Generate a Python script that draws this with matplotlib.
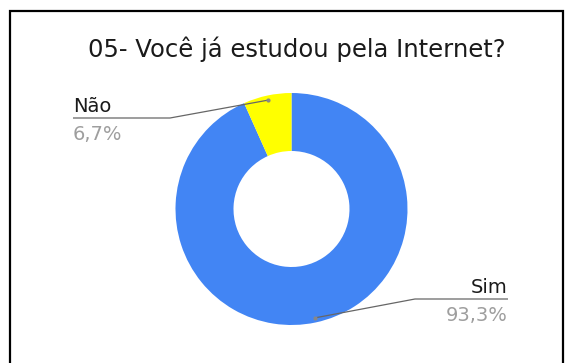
import numpy as np
import matplotlib.pyplot as plt
from matplotlib.patches import Rectangle

# data
categories = ["Sim", "Não"]
shares = [93.3, 6.7]
pct_labels = ["93,3%", "6,7%"]
colors = ["#4285F4", "#FFFF00"]

W, H = 571, 363
fig = plt.figure(figsize=(W / 100, H / 100), dpi=100)
ax = fig.add_axes([0, 0, 1, 1])

cx, cy = 291.5, H - 209
R = 116

wedges, _ = ax.pie(shares, colors=colors, startangle=90, counterclock=False,
                   radius=R, center=(cx, cy),
                   wedgeprops=dict(width=R * 0.5, linewidth=0))
ax.set_xlim(0, W)
ax.set_ylim(0, H)
ax.set_aspect("equal")
ax.axis("off")

# frame
fig.add_artist(Rectangle((10 / W, -0.1), 553 / W, 1.1 - 11 / H, fill=False,
                         edgecolor="black", linewidth=1.6,
                         transform=fig.transFigure))

ax.text(297, H - 57, "05- Você já estudou pela Internet?", ha="center",
        va="baseline", fontsize=17.5, color="#1a1a1a")

# label layout (pixel coords from top)
layout = {
    "Não": dict(x=73, ha="left", line_y=118, elbow=170, end=73),
    "Sim": dict(x=508, ha="right", line_y=299, elbow=415, end=508),
}

for w, cat, pct in zip(wedges, categories, pct_labels):
    mid = np.deg2rad((w.theta1 + w.theta2) / 2)
    px = cx + 0.96 * R * np.cos(mid)
    py = cy + 0.96 * R * np.sin(mid)
    L = layout[cat]
    ly = H - L["line_y"]
    ax.plot([px, L["elbow"], L["end"]], [py, ly, ly], color="#666666",
            linewidth=0.9, solid_capstyle="butt")
    ax.plot([px], [py], marker="o", markersize=2, color="#888888")
    ax.text(L["x"], ly + 6, cat, ha=L["ha"], va="baseline", fontsize=14,
            color="#1a1a1a")
    ax.text(L["x"], ly - 22, pct, ha=L["ha"], va="baseline", fontsize=14,
            color="#9E9E9E")

fig.savefig("out.png", dpi=100, facecolor="white")
